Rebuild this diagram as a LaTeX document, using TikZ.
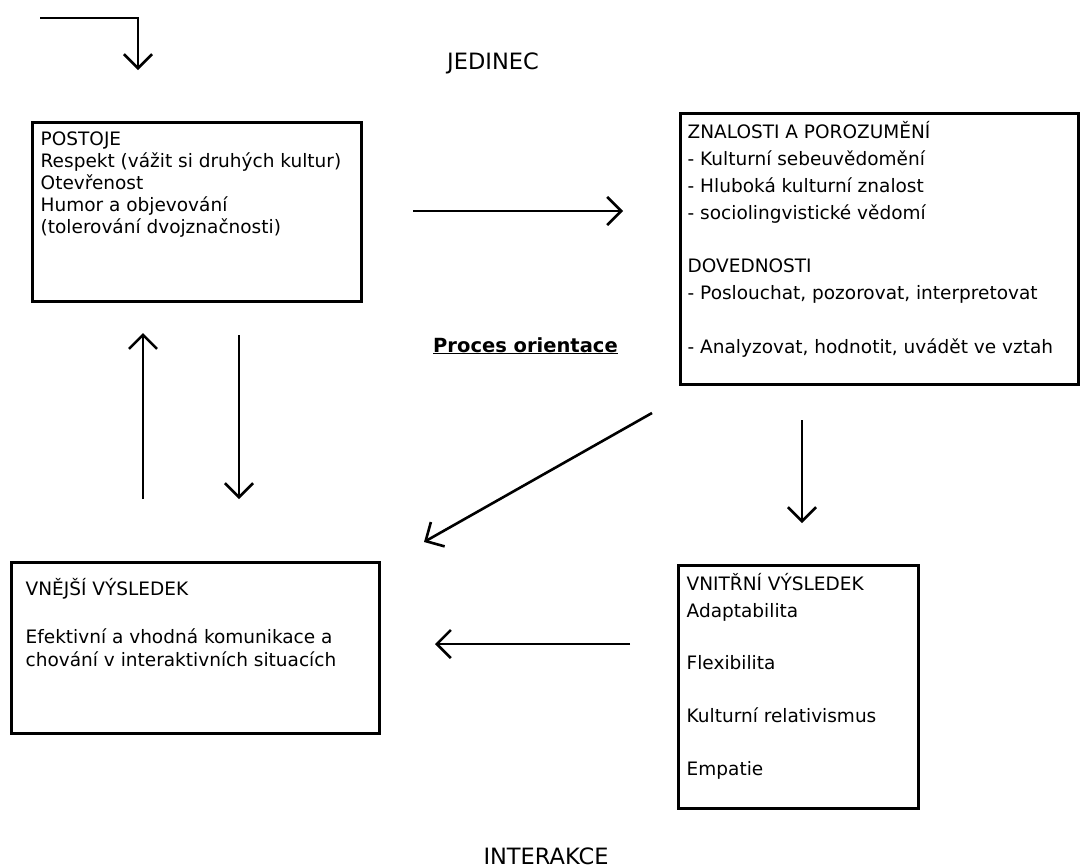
\documentclass[tikz,border=0pt]{standalone}
\usepackage{fontspec}
\setmainfont{DejaVu Sans}
\usetikzlibrary{arrows.meta, positioning}

\begin{document}
\begin{tikzpicture}[
    x=1pt, y=-1pt,
    box/.style={rectangle, draw, line width=3pt, inner sep=0pt},
    txt/.style={anchor=north west, align=left, inner sep=0pt,
      font=\fontsize{18.5}{#1}\selectfont},
    title/.style={inner sep=0pt, font=\fontsize{22.5}{27}\selectfont},
    arrow/.style={line width=2.6pt, -{Straight Barb[length=14pt, width=28pt]}}
]
\useasboundingbox (0,0) rectangle (1080,868);

\node[box, minimum width=329pt, minimum height=179pt] (postoje)  at (196.5,211.5) {};
\node[box, minimum width=398pt, minimum height=271pt] (znalosti) at (879,248.5) {};
\node[box, minimum width=368pt, minimum height=171pt] (vnejsi)   at (195,647.5) {};
\node[box, minimum width=240pt, minimum height=243pt] (vnitrni)  at (798,686.5) {};

\node[txt=22] (postojetxt) at ([shift={(10,6.5)}]postoje.north west)
  {\rule{0pt}{18.5pt}POSTOJE\\ Respekt (vážit si druhých kultur)\\ Otevřenost\\
   Humor a objevování\\ (tolerování dvojznačnosti)};
\node[txt=26.8] (znalostitxt) at ([shift={(9,8.5)}]znalosti.north west)
  {\rule{0pt}{18.5pt}ZNALOSTI A POROZUMĚNÍ\\ - Kulturní sebeuvědomění\\
   - Hluboká kulturní znalost\\ - sociolingvistické vědomí\\ ~\\ DOVEDNOSTI\\
   - Poslouchat, pozorovat, interpretovat\\ ~\\ - Analyzovat, hodnotit, uvádět ve vztah};
\node[txt=23.7] (vnejsitxt) at ([shift={(16,16.5)}]vnejsi.north west)
  {\rule{0pt}{18.5pt}VNĚJŠÍ VÝSLEDEK\\ ~\\ Efektivní a vhodná komunikace a\\
   chování v interaktivních situacích};
\node[txt=26.4] (vnitrnitxt) at ([shift={(10,8.5)}]vnitrni.north west)
  {\rule{0pt}{18.5pt}VNITŘNÍ VÝSLEDEK\\ Adaptabilita\\ ~\\ Flexibilita\\ ~\\
   Kulturní relativismus\\ ~\\ Empatie};

\node[title, anchor=base] (jedinec) at (493,69) {JEDINEC};
\node[title, anchor=base] (interakce) at (546,864) {INTERAKCE};
\node[anchor=base west, inner sep=0pt, font=\fontsize{19.5}{24}\selectfont\bfseries]
  (proces) at (433,352) {\underline{Proces orientace}};

\coordinate (start) at (40,18);
\coordinate (vstup) at (138,70);
\coordinate (p1) at (413,211);  \coordinate (z1) at (623,211);
\coordinate (v1) at (143,499);  \coordinate (p2) at (143,333);
\coordinate (p3) at (239,335);  \coordinate (v2) at (239,499);
\coordinate (z2) at (652,413);  \coordinate (v3) at (424,542);
\coordinate (z3) at (802,420);  \coordinate (n1) at (802,523);
\coordinate (n2) at (630,644);  \coordinate (v4) at (435,644);

\draw[arrow] (start) -| (vstup);
\draw[arrow] (p1) -- (z1);
\draw[arrow] (v1) -- (p2);
\draw[arrow] (p3) -- (v2);
\draw[arrow] (z2) -- (v3);
\draw[arrow] (z3) -- (n1);
\draw[arrow] (n2) -- (v4);
\end{tikzpicture}
\end{document}
